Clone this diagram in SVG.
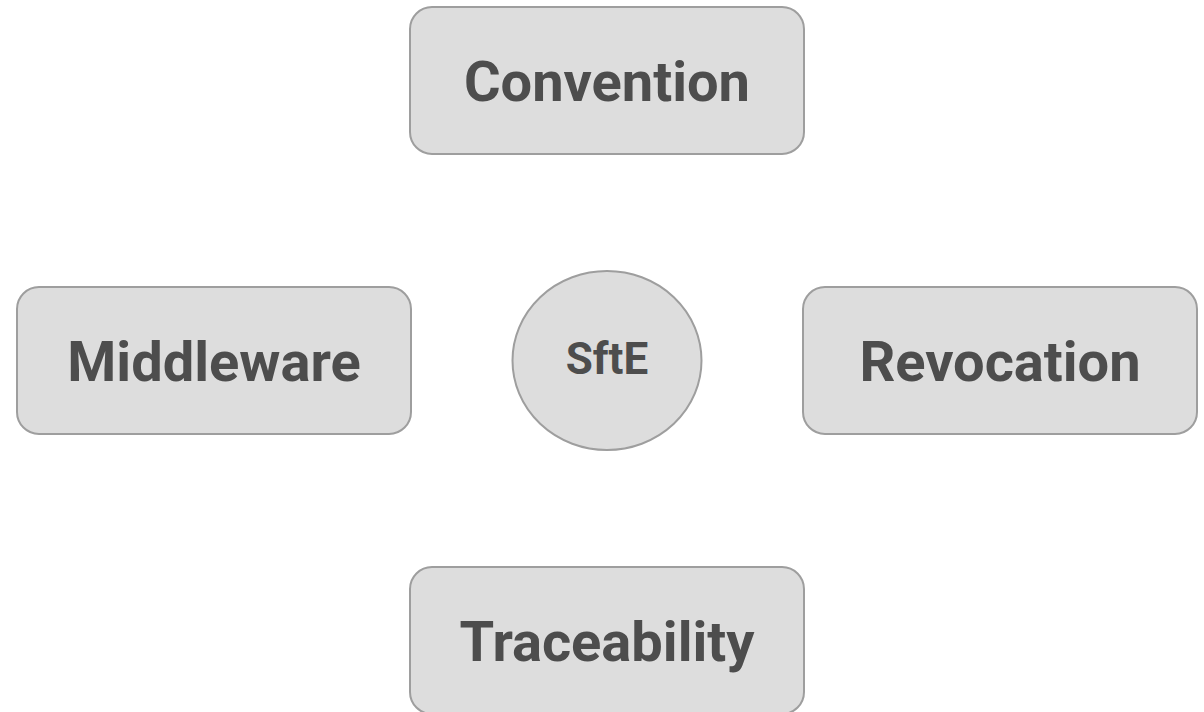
<svg xmlns="http://www.w3.org/2000/svg" width="1204" height="712" viewBox="0 0 1204 712">
  <style>
    .box { fill: #dddddd; stroke: #9e9e9e; stroke-width: 2; }
    .label { font-family: Roboto, "Liberation Sans", sans-serif; font-weight: bold; fill: #4d4d4d; text-anchor: middle; }
    .big { font-size: 56px; }
    .small { font-size: 44px; }
  </style>
  <rect width="1204" height="712" fill="#ffffff"/>
  <g id="connectors"></g>
  <g id="convention">
    <rect class="box" x="410" y="7" width="394" height="147" rx="22"/>
    <text class="label big" x="607" y="101">Convention</text>
  </g>
  <g id="middleware">
    <rect class="box" x="17" y="287" width="394" height="147" rx="22"/>
    <text class="label big" x="214" y="381">Middleware</text>
  </g>
  <g id="sfte">
    <ellipse class="box" cx="607" cy="360.5" rx="94.5" ry="89.5"/>
    <text class="label small" x="607" y="374">SftE</text>
  </g>
  <g id="revocation">
    <rect class="box" x="803" y="287" width="394" height="147" rx="22"/>
    <text class="label big" x="1000" y="381">Revocation</text>
  </g>
  <g id="traceability">
    <rect class="box" x="410" y="567" width="394" height="147" rx="22"/>
    <text class="label big" x="607" y="661">Traceability</text>
  </g>
</svg>
